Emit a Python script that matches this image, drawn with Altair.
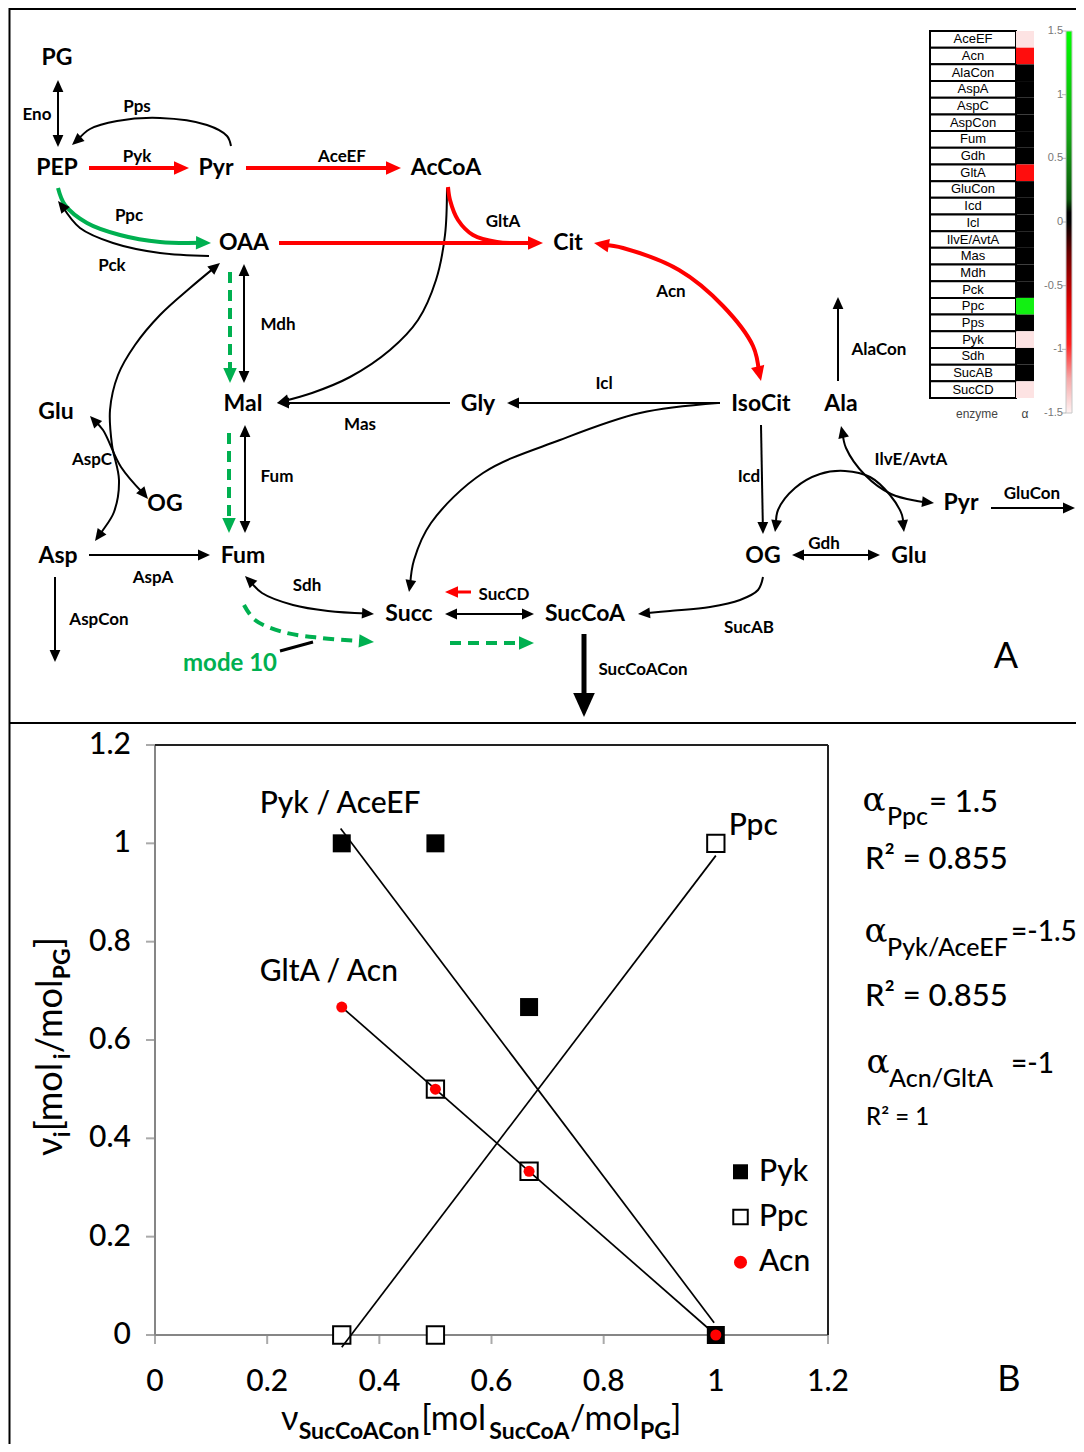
import math
import altair as alt
import pandas as pd

W, H = 1068, 1436          # canvas (page minus 8px margins)
OX, OY = 8, 8              # page offset of the canvas
RED, GREEN, BLACK, GREY = "#ff0000", "#00b050", "#000000", "#868686"

# ---------------- Panel A : metabolites ----------------
met_label = ["PG", "PEP", "Pyr", "AcCoA", "OAA", "Cit", "Mal", "Gly", "IsoCit", "Ala",
             "Glu", "OG", "Asp", "Fum", "Succ", "SucCoA", "OG", "Glu", "Pyr"]
met_x = [57, 57, 216, 446, 244, 568, 243, 478, 761, 841, 56, 165, 58, 243, 409, 585, 763, 909, 961]
met_y = [58, 168, 168, 168, 243, 243, 404, 404, 404, 404, 412, 504, 556, 556, 614, 614, 556, 556, 503]

# ---------------- Panel A : enzyme labels ----------------
enz_label = ["Eno", "Pps", "Pyk", "AceEF", "Ppc", "Pck", "GltA", "Acn", "Mdh", "Mas", "Icl",
             "AlaCon", "AspC", "Fum", "Icd", "IlvE/AvtA", "GluCon", "AspA", "Sdh", "SucCD",
             "Gdh", "AspCon", "SucAB", "SucCoACon"]
enz_x = [37, 137, 137, 342, 129, 112, 503, 671, 278, 360, 604, 879, 92, 277, 749, 911, 1032,
         153, 307, 504, 824, 99, 749, 643]
enz_y = [115, 107, 157, 157, 216, 266, 222, 292, 325, 425, 384, 350, 460, 477, 477, 460, 494,
         578, 586, 595, 544, 620, 628, 670]

# ---------------- Panel A : reactions (name, colour, width, dashed, heads, path) ----------------
reactions = [
    ("Eno", BLACK, 2, False, "both", [(58, 80), (58, 147)]),
    ("Pps", BLACK, 2, False, "end", [(231, 146), (227, 136), (207, 125), (160, 118), (117, 121), (90, 129), (72, 145)]),
    ("Pyk", RED, 4, False, "end", [(89, 168), (189, 168)]),
    ("AceEF", RED, 4, False, "end", [(246, 168), (401, 168)]),
    ("Ppc", GREEN, 4, False, "end", [(58, 188), (65, 205), (87, 223), (120, 235), (160, 242), (211, 243)]),
    ("Pck", BLACK, 2, False, "end", [(209, 256), (160, 253), (113, 243), (80, 228), (58, 201)]),
    ("GltA", RED, 4, False, "", [(448, 187), (450, 200), (458, 220), (473, 235), (497, 242), (520, 243)]),
    ("OAA_Cit", RED, 4, False, "end", [(279, 243), (543, 243)]),
    ("AcCoA_Mal", BLACK, 2, False, "end", [(447, 188), (445, 235), (436, 280), (418, 320), (390, 350),
                                           (350, 377), (312, 393), (277, 403)]),
    ("Acn", RED, 4, False, "both", [(594, 243), (623, 248), (679, 270), (723, 306), (753, 346), (761, 381)]),
    ("Mdh", BLACK, 2, False, "both", [(244, 264), (244, 383)]),
    ("Mdh_m10", GREEN, 4, True, "end", [(230, 272), (230, 383)]),
    ("Fum", BLACK, 2, False, "both", [(245, 425), (245, 533)]),
    ("Fum_m10", GREEN, 4, True, "end", [(229, 433), (229, 533)]),
    ("Mas", BLACK, 2, False, "end", [(450, 403), (277, 403)]),
    ("Icl", BLACK, 2, False, "end", [(720, 403), (507, 403)]),
    ("Icl_Succ", BLACK, 2, False, "end", [(718, 403), (640, 413), (560, 440), (483, 473), (431, 523), (414, 560), (409, 592)]),
    ("AlaCon", BLACK, 2, False, "end", [(838, 381), (838, 297)]),
    ("Icd", BLACK, 2, False, "end", [(761, 425), (763, 534)]),
    ("IlvE", BLACK, 2, False, "both", [(841, 426), (846, 448), (865, 475), (891, 494), (917, 501), (934, 503)]),
    ("IlvE_arc", BLACK, 2, False, "both", [(775, 532), (778, 510), (795, 488), (820, 474), (845, 471), (870, 477),
                                           (890, 495), (902, 515), (904, 532)]),
    ("GluCon", BLACK, 2, False, "end", [(991, 508), (1075, 508)]),
    ("Gdh", BLACK, 2, False, "both", [(792, 555), (880, 555)]),
    ("SucAB", BLACK, 2, False, "end", [(763, 577), (758, 590), (740, 600), (710, 607), (670, 611), (638, 614)]),
    ("SucCoACon", BLACK, 5, False, "end", [(584, 634), (584, 717)]),
    ("AspC_OAA", BLACK, 2, False, "both", [(95, 541), (103, 530), (114, 512), (119, 480), (112, 445), (110, 410),
                                           (118, 375), (135, 345), (160, 315), (190, 288), (220, 263)]),
    ("AspC", BLACK, 2, False, "both", [(90, 416), (103, 430), (121, 467), (148, 499)]),
    ("AspA", BLACK, 2, False, "end", [(89, 555), (210, 555)]),
    ("AspCon", BLACK, 2, False, "end", [(55, 577), (55, 662)]),
    ("Sdh", BLACK, 2, False, "both", [(245, 576), (262, 593), (293, 605), (328, 611), (374, 614)]),
    ("Sdh_m10", GREEN, 4, True, "end", [(244, 605), (255, 620), (283, 632), (321, 638), (374, 642)]),
    ("pointer", BLACK, 3, False, "", [(280, 651), (313, 642)]),
    ("SucCD_dir", RED, 3, False, "end", [(471, 592), (445, 592)]),
    ("SucCD", BLACK, 2, False, "both", [(445, 614), (534, 614)]),
    ("SucCD_m10", GREEN, 4, True, "end", [(450, 643), (534, 643)]),
]

# ---------------- enzyme / alpha table ----------------
enzymes = ["AceEF", "Acn", "AlaCon", "AspA", "AspC", "AspCon", "Fum", "Gdh", "GltA", "GluCon", "Icd",
           "Icl", "IlvE/AvtA", "Mas", "Mdh", "Pck", "Ppc", "Pps", "Pyk", "Sdh", "SucAB", "SucCD"]
alpha = [-1.5, -1, 0, 0, 0, 0, 0, 0, -1, 0, 0, 0, 0, 0, 0, 0, 1.5, 0, -1.5, 0, 0, -1.5]
alpha_colour = {-1.5: "#fde3e3", -1: "#ff0d0d", 0: "#000000", 1.5: "#12f012"}
cb_ticks = [1.5, 1, 0.5, 0, -0.5, -1, -1.5]
cb_labels = ["1.5", "1", "0.5", "0", "-0.5", "-1", "-1.5"]

# ---------------- Panel B data ----------------
pyk_x = [0.333, 0.5, 0.667, 1.0]
pyk_y = [1.0, 1.0, 0.667, 0.0]
ppc_x = [0.333, 0.5, 1.0]
ppc_y = [0.0, 0.0, 1.0]
open_x = [0.5, 0.667]
open_y = [0.5, 0.333]
acn_x = [0.333, 0.5, 0.667, 1.0]
acn_y = [0.667, 0.5, 0.333, 0.0]
fit_id = ["Pyk", "Pyk", "Ppc", "Ppc", "Acn", "Acn"]
fit_x = [0.331, 0.997, 0.333, 1.0, 0.333, 1.0]
fit_y = [1.03, 0.025, -0.025, 0.975, 0.667, 0.0]
tick_vals = [0, 0.2, 0.4, 0.6, 0.8, 1.0, 1.2]
tick_text = ["0", "0.2", "0.4", "0.6", "0.8", "1", "1.2"]

# ================= scales =================
PX = alt.Scale(domain=[OX, OX + W], range=[0, W], zero=False, nice=False)
PY = alt.Scale(domain=[OY, OY + H], range=[0, H], zero=False, nice=False)
SX = alt.Scale(domain=[0, 1.2], range=[155 - OX, 828 - OX], zero=False, nice=False)
SY = alt.Scale(domain=[0, 1.2], range=[1335 - OY, 745 - OY], zero=False, nice=False)
ROW = alt.Scale(domain=[0, 22], range=[31 - OY, 398 - OY], zero=False, nice=False)
CB = alt.Scale(domain=[-1.5, 1.5], range=[413 - OY, 31 - OY], zero=False, nice=False)


def enc(xs, ys, xf="x", yf="y"):
    return dict(x=alt.X(f"{xf}:Q", scale=xs, axis=None), y=alt.Y(f"{yf}:Q", scale=ys, axis=None))


def texts(rows, xs, ys, font, weight="normal", align="center", baseline="middle", **kw):
    df = pd.DataFrame(rows, columns=["t", "x", "y", "fs", "c", "ang"])
    return alt.Chart(df).mark_text(font=font, fontWeight=weight, align=align, baseline=baseline, **kw).encode(
        **enc(xs, ys), text="t:N", size=alt.Size("fs:Q", scale=None),
        color=alt.Color("c:N", scale=None), angle=alt.Angle("ang:Q", scale=None))


layers = []

# ---- figure frame ----
frame = pd.DataFrame({"x": [9, 9.5, 9], "y": [9, 8, 723], "x2": [1090, 9.5, 1090], "y2": [9, 1460, 723]})
layers.append(alt.Chart(frame).mark_rule(color=BLACK, strokeWidth=2).encode(
    **enc(PX, PY), x2="x2:Q", y2="y2:Q"))

# ---- reactions ----
HEAD = "M0,0L0.45,1L-0.45,1Z"


def direction(a, b):
    return math.degrees(math.atan2(b[0] - a[0], -(b[1] - a[1]))) % 360


def pull_back(p_end, p_prev, d):
    vx, vy = p_end[0] - p_prev[0], p_end[1] - p_prev[1]
    n = math.hypot(vx, vy) or 1
    return (p_end[0] - vx / n * d, p_end[1] - vy / n * d)


groups, head_rows = {}, []
for name, col, w, dashed, heads, pts in reactions:
    r = 12 if w <= 2 else (13 if w == 3 else (15 if w == 4 else 24))
    pts = [tuple(p) for p in pts]
    if heads in ("end", "both"):
        head_rows.append(dict(x=pts[-1][0], y=pts[-1][1], a=direction(pts[-2], pts[-1]), s=(2 * r) ** 2, c=col))
        pts[-1] = pull_back(pts[-1], pts[-2], 0.6 * r)
    if heads in ("start", "both"):
        head_rows.append(dict(x=pts[0][0], y=pts[0][1], a=direction(pts[1], pts[0]), s=(2 * r) ** 2, c=col))
        pts[0] = pull_back(pts[0], pts[1], 0.6 * r)
    key = (col, w, dashed, len(pts) > 2)
    for i, (x, y) in enumerate(pts):
        groups.setdefault(key, []).append(dict(id=name, o=i, x=x, y=y))

for (col, w, dashed, curved), rows in groups.items():
    kw = dict(color=col, strokeWidth=w)
    if curved:
        kw["interpolate"] = "catmull-rom"
    if dashed:
        kw["strokeDash"] = [11, 7]
    layers.append(alt.Chart(pd.DataFrame(rows)).mark_line(**kw).encode(
        **enc(PX, PY), detail="id:N", order="o:Q"))

layers.append(alt.Chart(pd.DataFrame(head_rows)).mark_point(shape=HEAD, filled=True, opacity=1, strokeWidth=0).encode(
    **enc(PX, PY), angle=alt.Angle("a:Q", scale=None), size=alt.Size("s:Q", scale=None),
    color=alt.Color("c:N", scale=None)))

# ---- labels of panel A ----
layers.append(texts([(t, x, y, 23, BLACK, 0) for t, x, y in zip(met_label, met_x, met_y)],
                    PX, PY, "Lato", "bold"))
layers.append(texts([(t, x, y, 17, BLACK, 0) for t, x, y in zip(enz_label, enz_x, enz_y)]
                    + [("mode 10", 230, 664, 24, GREEN, 0)], PX, PY, "Lato", "bold"))
layers.append(texts([("A", 1006, 657, 36, BLACK, 0), ("B", 1009, 1380, 36, BLACK, 0)], PX, PY, "Lato"))

# ---- enzyme table ----
hm = pd.DataFrame({"name": enzymes, "alpha": alpha, "r0": list(range(22)), "r1": list(range(1, 23))})
hm["rm"] = hm["r0"] + 0.5
hm["col"] = [alpha_colour[a] for a in alpha]
hm["nx0"], hm["nx1"], hm["nxm"], hm["ax0"], hm["ax1"] = 930, 1016, 973, 1016, 1034
layers.append(alt.Chart(hm).mark_rect(fill="white", stroke=BLACK, strokeWidth=2).encode(
    x=alt.X("nx0:Q", scale=PX, axis=None), x2="nx1:Q",
    y=alt.Y("r0:Q", scale=ROW, axis=None), y2="r1:Q"))
layers.append(alt.Chart(hm).mark_rect(strokeWidth=0, opacity=1).encode(
    x=alt.X("ax0:Q", scale=PX, axis=None), x2="ax1:Q",
    y=alt.Y("r0:Q", scale=ROW, axis=None), y2="r1:Q",
    color=alt.Color("col:N", scale=None)))
layers.append(alt.Chart(hm).mark_text(font="Liberation Sans", fontSize=13, color=BLACK).encode(
    x=alt.X("nxm:Q", scale=PX, axis=None), y=alt.Y("rm:Q", scale=ROW, axis=None), text="name:N"))
layers.append(texts([("enzyme", 977, 414, 12, "#444444", 0), ("α", 1025, 414, 12, "#444444", 0)],
                    PX, PY, "Liberation Sans"))

# ---- colour bar ----
cbar = pd.DataFrame({"x0": [1066], "x1": [1072], "lo": [-1.5], "hi": [1.5]})
grad = alt.LinearGradient(gradient="linear", x1=0, x2=0, y1=1, y2=0, stops=[
    alt.GradientStop(color="#fff2f2", offset=0.0),
    alt.GradientStop(color="#f5a8a8", offset=0.09),
    alt.GradientStop(color="#ff2020", offset=0.18),
    alt.GradientStop(color="#d40000", offset=0.3),
    alt.GradientStop(color="#6a0000", offset=0.42),
    alt.GradientStop(color="#000000", offset=0.5),
    alt.GradientStop(color="#000000", offset=0.525),
    alt.GradientStop(color="#0b5a0b", offset=0.56),
    alt.GradientStop(color="#15a015", offset=0.72),
    alt.GradientStop(color="#00ff00", offset=1.0)])
layers.append(alt.Chart(cbar).mark_rect(fill=grad, stroke="#c8c8c8", strokeWidth=1).encode(
    x=alt.X("x0:Q", scale=PX, axis=None), x2="x1:Q", y=alt.Y("lo:Q", scale=CB, axis=None), y2="hi:Q"))
cbt = pd.DataFrame({"v": cb_ticks, "t": cb_labels})
cbt["x"], cbt["xl"] = 1066, 1063
layers.append(alt.Chart(cbt).mark_tick(orient="horizontal", size=4, thickness=1, color="#999999", xOffset=-2).encode(
    x=alt.X("x:Q", scale=PX, axis=None), y=alt.Y("v:Q", scale=CB, axis=None)))
layers.append(alt.Chart(cbt).mark_text(font="Liberation Sans", fontSize=11, color="#777777", align="right").encode(
    x=alt.X("xl:Q", scale=PX, axis=None), y=alt.Y("v:Q", scale=CB, axis=None), text="t:N"))

# ================= Panel B =================
BW = 500  # text weight used in panel B
box = pd.DataFrame({"x": [0, 0, 0, 1.2], "y": [0, 0, 1.2, 0], "x2": [0, 1.2, 1.2, 1.2], "y2": [1.2, 0, 1.2, 1.2],
                    "c": [GREY, GREY, "#222222", "#222222"]})
layers.append(alt.Chart(box).mark_rule(strokeWidth=2).encode(
    **enc(SX, SY), x2="x2:Q", y2="y2:Q", color=alt.Color("c:N", scale=None)))
ty = pd.DataFrame({"x": [0] * 7, "y": tick_vals, "t": tick_text})
tx = pd.DataFrame({"x": tick_vals, "y": [0] * 7, "t": tick_text})
layers.append(alt.Chart(ty).mark_tick(orient="horizontal", size=9, thickness=2, color=GREY, xOffset=-4.5).encode(**enc(SX, SY)))
layers.append(alt.Chart(tx).mark_tick(orient="vertical", size=9, thickness=2, color=GREY, yOffset=4.5).encode(**enc(SX, SY)))
layers.append(alt.Chart(ty).mark_text(font="Lato", fontWeight=BW, fontSize=30, align="right", dx=-24, color=BLACK).encode(
    **enc(SX, SY), text="t:N"))
layers.append(alt.Chart(tx).mark_text(font="Lato", fontWeight=BW, fontSize=30, dy=47, color=BLACK).encode(
    **enc(SX, SY), text="t:N"))

layers.append(alt.Chart(pd.DataFrame({"x": pyk_x, "y": pyk_y})).mark_square(size=324, color=BLACK, opacity=1).encode(**enc(SX, SY)))
layers.append(alt.Chart(pd.DataFrame({"x": ppc_x + open_x, "y": ppc_y + open_y})).mark_square(
    size=300, fill="white", stroke=BLACK, strokeWidth=2, opacity=1).encode(**enc(SX, SY)))
layers.append(alt.Chart(pd.DataFrame({"id": fit_id, "x": fit_x, "y": fit_y})).mark_line(color=BLACK, strokeWidth=1.7).encode(
    **enc(SX, SY), detail="id:N"))
layers.append(alt.Chart(pd.DataFrame({"x": acn_x, "y": acn_y})).mark_circle(size=121, color=RED, opacity=1).encode(**enc(SX, SY)))

# legend (inside plot)
layers.append(alt.Chart(pd.DataFrame({"x": [1.044], "y": [0.332]})).mark_square(size=225, color=BLACK, opacity=1).encode(**enc(SX, SY)))
layers.append(alt.Chart(pd.DataFrame({"x": [1.044], "y": [0.240]})).mark_square(
    size=210, fill="white", stroke=BLACK, strokeWidth=2, opacity=1).encode(**enc(SX, SY)))
layers.append(alt.Chart(pd.DataFrame({"x": [1.044], "y": [0.148]})).mark_circle(size=169, color=RED, opacity=1).encode(**enc(SX, SY)))
layers.append(texts([("Pyk", 1.077, 0.332, 30, BLACK, 0), ("Ppc", 1.077, 0.240, 30, BLACK, 0),
                     ("Acn", 1.077, 0.148, 30, BLACK, 0), ("Ppc", 1.023, 1.035, 30, BLACK, 0)],
                    SX, SY, "Lato", BW, align="left"))
layers.append(texts([("Pyk / AceEF", 0.33, 1.081, 30, BLACK, 0), ("GltA / Acn", 0.31, 0.738, 30, BLACK, 0)],
                    SX, SY, "Lato", BW))

# alpha / R² annotations
layers.append(texts([("α", 874, 801, 34, BLACK, 0), ("α", 876, 932, 34, BLACK, 0), ("α", 878, 1063, 34, BLACK, 0)],
                    PX, PY, "DejaVu Serif"))
layers.append(texts([("Ppc", 887, 825, 25, BLACK, 0), ("= 1.5", 929, 812, 31, BLACK, 0),
                     ("R² = 0.855", 865, 869, 31, BLACK, 0),
                     ("Pyk/AceEF", 887, 956, 25, BLACK, 0), ("=-1.5", 1011, 941, 28, BLACK, 0),
                     ("R² = 0.855", 865, 1006, 31, BLACK, 0),
                     ("Acn/GltA", 889, 1087, 25, BLACK, 0), ("=-1", 1011, 1073, 28, BLACK, 0),
                     ("R² = 1", 866, 1125, 24, BLACK, 0)],
                    PX, PY, "Lato", BW, align="left", baseline="alphabetic"))

# axis titles built from pieces (main text + subscripts)
REG = {"ν": 0.52, "[": 0.31, "]": 0.31, "m": 0.86, "o": 0.58, "l": 0.25, "/": 0.37}
BLD = {"S": 0.52, "u": 0.57, "c": 0.48, "C": 0.67, "o": 0.58, "A": 0.69, "n": 0.57, "P": 0.63, "G": 0.72, "i": 0.26}


def pieces_layout(pieces, start, main_base, sub_base, step_sign, angle, main, sub):
    reg_rows, bold_rows, pos = [], [], start
    for txt, is_sub in pieces:
        size = sub if is_sub else main
        wd = sum((BLD if is_sub else REG).get(ch, 0.55) for ch in txt) * size
        base = sub_base if is_sub else main_base
        if angle == 0:
            row = (txt, pos, base, size, BLACK, angle)
        else:
            row = (txt, base, pos, size, BLACK, angle)
        (bold_rows if is_sub else reg_rows).append(row)
        pos += step_sign * wd
    return reg_rows, bold_rows


xt = [("ν", False), ("SucCoACon", True), ("[mol", False), ("SucCoA", True), ("/mol", False), ("PG", True), ("]", False)]
yt = [("ν", False), ("i", True), ("[mol", False), ("i", True), ("/mol", False), ("PG", True), ("]", False)]
xr, xb = pieces_layout(xt, 281, 1430, 1439, +1, 0, 34, 23)
yr, yb = pieces_layout(yt, 1156, 62, 70, -1, 270, 36, 23)
layers.append(texts(xr + yr, PX, PY, "Lato", align="left", baseline="alphabetic"))
layers.append(texts(xb + yb, PX, PY, "Lato", "bold", align="left", baseline="alphabetic"))

chart = alt.layer(*layers).resolve_scale(x="independent", y="independent").properties(
    width=W, height=H, padding=0, background="white",
    autosize=alt.AutoSizeParams(type="none")).configure_view(stroke=None)

chart.save("out.html", embed_options={"renderer": "svg", "actions": False})
